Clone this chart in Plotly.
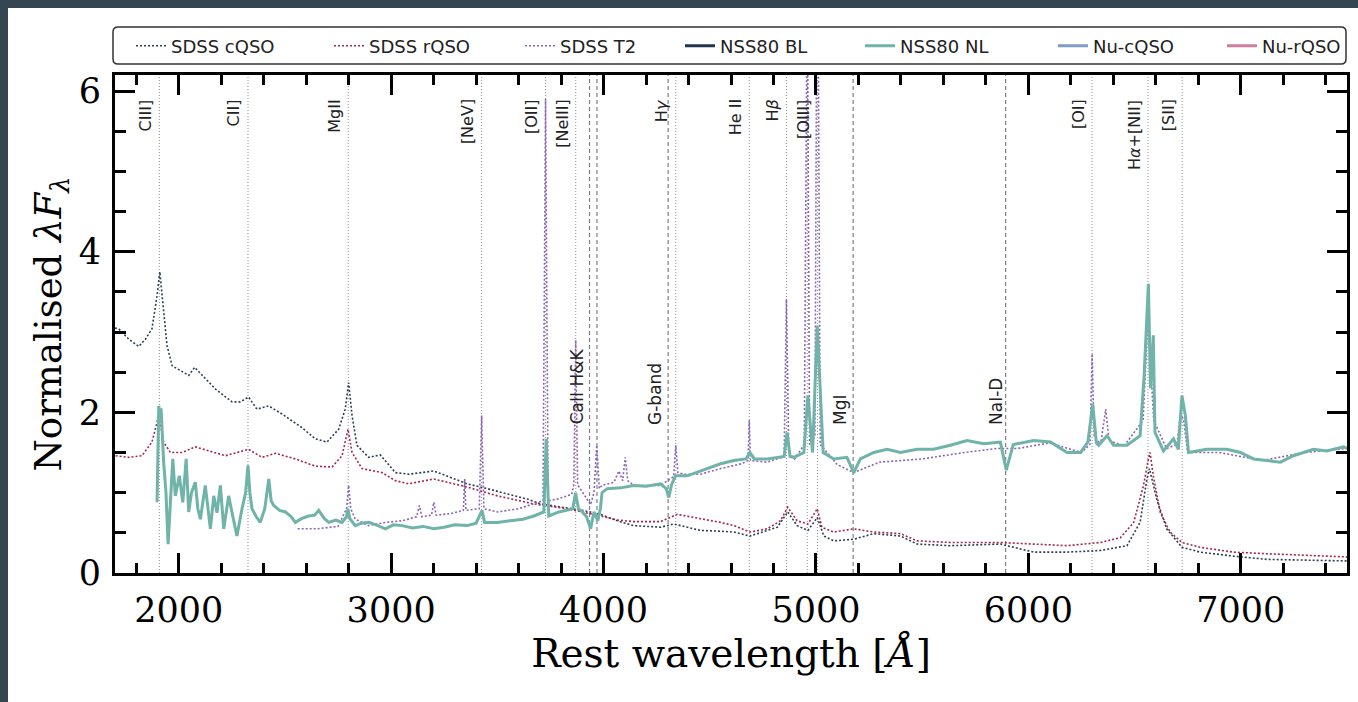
import plotly.graph_objects as go

# ---------------- data ----------------
cqso_wl = [1700, 1718, 1765, 1812, 1843, 1874, 1898, 1911, 1925, 1945, 1969, 2008, 2047, 2075, 2110,
           2173, 2251, 2290, 2329, 2368, 2424, 2486, 2580, 2643, 2698, 2753, 2784, 2800, 2816, 2839,
           2894, 2949, 3020, 3082, 3201, 3280, 3358, 3453, 3562, 3641, 3704, 3800, 3900, 3986, 4064,
           4141, 4268, 4331, 4456, 4551, 4613, 4689, 4818, 4867, 4911, 4962, 5006, 5037, 5084, 5178,
           5272, 5398, 5476, 5633, 5868, 6025, 6182, 6339, 6464, 6526, 6558, 6570, 6604, 6651, 6723,
           6808, 6965, 7122, 7300, 7500]
cqso_flux = [3.05, 3.04, 2.91, 2.82, 2.91, 3.04, 3.45, 3.75, 3.37, 2.83, 2.58, 2.52, 2.46, 2.56, 2.46,
             2.29, 2.13, 2.13, 2.19, 2.04, 2.08, 1.98, 1.81, 1.67, 1.63, 1.79, 2.04, 2.37, 1.96, 1.59,
             1.44, 1.47, 1.25, 1.23, 1.27, 1.19, 1.11, 1.05, 0.98, 0.92, 0.86, 0.82, 0.78, 0.73, 0.65,
             0.59, 0.57, 0.61, 0.53, 0.52, 0.51, 0.46, 0.57, 0.76, 0.59, 0.53, 0.69, 0.46, 0.40, 0.42,
             0.49, 0.46, 0.36, 0.34, 0.36, 0.26, 0.26, 0.28, 0.34, 0.63, 1.17, 1.30, 0.92, 0.55, 0.32,
             0.26, 0.21, 0.17, 0.16, 0.15]

rqso_wl = [1703, 1765, 1827, 1874, 1906, 1929, 1961, 2016, 2078, 2141, 2220, 2329, 2392, 2455, 2549,
           2643, 2722, 2769, 2797, 2816, 2863, 2957, 3020, 3082, 3201, 3358, 3500, 3672, 3829, 3986,
           4064, 4141, 4268, 4347, 4456, 4551, 4613, 4689, 4771, 4833, 4867, 4911, 4962, 5006, 5028,
           5084, 5178, 5272, 5398, 5476, 5633, 5868, 6025, 6182, 6339, 6433, 6496, 6542, 6565, 6573,
           6588, 6620, 6667, 6723, 6808, 6965, 7122, 7280, 7500]
rqso_flux = [1.46, 1.44, 1.46, 1.63, 1.96, 1.63, 1.50, 1.50, 1.57, 1.52, 1.46, 1.54, 1.44, 1.49, 1.42,
             1.33, 1.32, 1.46, 1.79, 1.50, 1.30, 1.25, 1.15, 1.11, 1.17, 1.07, 0.96, 0.86, 0.80, 0.71,
             0.66, 0.64, 0.64, 0.73, 0.68, 0.63, 0.59, 0.51, 0.55, 0.65, 0.82, 0.65, 0.61, 0.80, 0.57,
             0.51, 0.55, 0.51, 0.49, 0.40, 0.38, 0.38, 0.36, 0.34, 0.38, 0.44, 0.63, 1.09, 1.42, 1.50,
             1.21, 0.76, 0.51, 0.38, 0.32, 0.26, 0.24, 0.22, 0.20]

t2_wl = [2560, 2650, 2750, 2790, 2800, 2810, 2831, 2894, 2973, 3051, 3120, 3133, 3145, 3190, 3201,
         3212, 3280, 3340, 3346, 3352, 3415, 3426, 3437, 3500, 3600, 3672, 3715, 3727, 3739, 3782,
         3850, 3860, 3869, 3878, 3890, 3900, 3939, 3955, 3968, 3980, 3993, 4049, 4072, 4090, 4102,
         4114, 4142, 4268, 4330, 4340, 4350, 4378, 4456, 4551, 4650, 4680, 4686, 4692, 4771, 4850,
         4861, 4872, 4900, 4945, 4959, 4970, 4995, 5007, 5020, 5100, 5178, 5300, 5500, 5700, 5850,
         5950, 6100, 6250, 6290, 6300, 6310, 6340, 6364, 6380, 6450, 6540, 6563, 6590, 6650, 6700,
         6716, 6731, 6750, 6900, 7100, 7300, 7500]
t2_flux = [0.55, 0.55, 0.58, 0.80, 1.09, 0.80, 0.67, 0.59, 0.63, 0.65, 0.70, 0.84, 0.70, 0.72, 0.88,
           0.72, 0.74, 0.78, 1.17, 0.78, 0.80, 1.96, 0.80, 0.76, 0.80, 0.86, 0.90, 5.90, 0.90, 0.92,
           0.98, 1.10, 2.90, 1.10, 1.05, 1.00, 0.85, 1.00, 1.59, 1.05, 1.09, 1.13, 1.27, 1.15, 1.44,
           1.15, 1.09, 1.09, 1.20, 1.59, 1.25, 1.23, 1.23, 1.30, 1.36, 1.40, 1.90, 1.40, 1.38, 1.45,
           3.41, 1.50, 1.42, 1.60, 7.50, 1.60, 1.70, 9.00, 1.60, 1.35, 1.25, 1.38, 1.42, 1.50, 1.55,
           1.55, 1.62, 1.50, 1.60, 2.73, 1.70, 1.60, 2.04, 1.65, 1.58, 1.90, 3.20, 1.90, 1.55, 1.60,
           2.00, 1.90, 1.50, 1.50, 1.40, 1.50, 1.55]

nl_wl = [1898, 1906, 1912, 1917, 1929, 1940, 1950, 1961, 1972, 1984, 2003, 2019, 2035, 2047, 2060,
         2078, 2090, 2102, 2125, 2149, 2165, 2180, 2196, 2212, 2235, 2255, 2274, 2298, 2315, 2326,
         2335, 2345, 2365, 2384, 2405, 2424, 2435, 2447, 2475, 2502, 2530, 2549, 2580, 2612, 2640,
         2659, 2685, 2706, 2740, 2769, 2790, 2797, 2805, 2831, 2860, 2894, 2930, 2973, 3010, 3051,
         3100, 3150, 3201, 3250, 3300, 3358, 3400, 3428, 3440, 3500, 3562, 3620, 3672, 3719, 3730,
         3742, 3790, 3829, 3855, 3868, 3882, 3900, 3920, 3939, 3955, 3973, 3985, 3993, 4017, 4080,
         4142, 4200, 4268, 4295, 4307, 4320, 4339, 4394, 4456, 4551, 4613, 4670, 4689, 4710, 4771,
         4833, 4850, 4864, 4878, 4896, 4943, 4962, 4984, 5006, 5034, 5084, 5146, 5178, 5209, 5272,
         5335, 5398, 5476, 5554, 5633, 5711, 5790, 5868, 5896, 5929, 6025, 6104, 6182, 6245, 6280,
         6303, 6320, 6331, 6370, 6401, 6464, 6526, 6545, 6565, 6575, 6588, 6596, 6636, 6683, 6706,
         6723, 6739, 6754, 6840, 6934, 6998, 7060, 7122, 7186, 7248, 7342, 7405, 7484, 7500]
nl_flux = [0.88, 2.08, 1.95, 2.05, 1.38, 1.00, 0.36, 0.96, 1.42, 0.96, 1.21, 0.88, 1.42, 0.76, 1.00,
           1.13, 0.80, 0.67, 1.09, 0.55, 0.96, 0.75, 1.09, 0.55, 0.96, 0.70, 0.46, 0.80, 1.00, 1.34,
           1.00, 0.80, 0.70, 0.63, 0.80, 1.17, 0.90, 0.84, 0.78, 0.76, 0.70, 0.63, 0.68, 0.71, 0.72,
           0.78, 0.68, 0.63, 0.66, 0.63, 0.70, 0.80, 0.68, 0.59, 0.62, 0.63, 0.60, 0.55, 0.60, 0.59,
           0.56, 0.58, 0.55, 0.57, 0.60, 0.59, 0.62, 0.78, 0.63, 0.63, 0.65, 0.67, 0.71, 0.76, 1.67,
           0.71, 0.76, 0.78, 0.80, 1.00, 0.80, 0.76, 0.70, 0.55, 0.76, 0.65, 0.80, 1.00, 1.05, 1.06,
           1.09, 1.08, 1.11, 1.05, 0.94, 1.10, 1.21, 1.21, 1.27, 1.36, 1.40, 1.42, 1.50, 1.42, 1.42,
           1.44, 1.45, 1.75, 1.45, 1.44, 1.50, 2.21, 1.50, 3.08, 1.50, 1.42, 1.44, 1.25, 1.42, 1.50,
           1.54, 1.50, 1.54, 1.54, 1.59, 1.65, 1.61, 1.63, 1.28, 1.60, 1.65, 1.63, 1.50, 1.50, 1.63,
           2.10, 1.62, 1.59, 1.71, 1.59, 1.59, 1.71, 2.46, 3.60, 2.30, 2.96, 1.75, 1.52, 1.67, 1.54,
           2.21, 1.96, 1.50, 1.54, 1.54, 1.50, 1.42, 1.40, 1.38, 1.46, 1.54, 1.52, 1.57, 1.55]

emission_line_wl = [1909, 2326, 2798, 3426, 3727, 3869, 4340, 4686, 4861, 4959, 5007, 6300, 6563, 6724]
emission_label_wl = [1909, 2326, 2798, 3426, 3727, 3869, 4340, 4686, 4861, 5007, 6300, 6563, 6724]
emission_labels = ["CIII]", "CII]", "MgII", "[NeV]", "[OII]", "[NeIII]", "H<i>γ</i>", "He II",
                   "H<i>β</i>", "[OIII]", "[OI]", "H<i>α</i>+[NII]", "[SII]"]
absorption_line_wl = [3934, 3969, 4304, 5175, 5893]
absorption_label_wl = [3934, 4304, 5175, 5893]
absorption_labels = ["CaII H&K", "G-band", "MgI", "NaI-D"]

series_names = ["SDSS cQSO", "SDSS rQSO", "SDSS T2", "NSS80 BL", "NSS80 NL", "Nu-cQSO", "Nu-rQSO"]
series_colors = ["#2e3f52", "#a3264b", "#8a63b8", "#1f364c", "#6fb3a9", "#7f9cc4", "#d27ca0"]

# ---------------- figure ----------------
W, H = 1358, 702
L, R, T, B = 115, 1347, 75, 573
pw, ph = R - L, B - T


def px(x):
    return (x - L) / pw


def py(y):
    return (B - y) / ph


fig = go.Figure()

data = {
    "SDSS cQSO": (cqso_wl, cqso_flux),
    "SDSS rQSO": (rqso_wl, rqso_flux),
    "SDSS T2": (t2_wl, t2_flux),
    "NSS80 BL": ([None], [None]),
    "NSS80 NL": (nl_wl, nl_flux),
    "Nu-cQSO": ([None], [None]),
    "Nu-rQSO": ([None], [None]),
}

# legend text start positions (px)
legend_text_x = [171, 369, 560, 720, 900, 1093, 1262]

layout_legends = {}
for i, (name, col) in enumerate(zip(series_names, series_colors)):
    xs, ys = data[name]
    dotted = name.startswith("SDSS")
    lk = "legend" if i == 0 else f"legend{i + 1}"
    fig.add_trace(go.Scatter(
        x=xs, y=ys, mode="lines", name=name, legend=lk,
        line=dict(color=col, width=1.6 if dotted else 3, dash="2px,2px" if dotted else "solid"),
        showlegend=True,
    ))
    layout_legends[lk] = dict(
        x=px(legend_text_x[i] - 40), xanchor="left", y=py(46), yanchor="middle",
        bgcolor="rgba(0,0,0,0)", borderwidth=0,
        font=dict(family="DejaVu Sans", size=18, color="#222222"),
        itemwidth=30,
    )

shapes = []
# white figure area over the dark frame
shapes.append(dict(type="rect", xref="paper", yref="paper", layer="below",
                   x0=px(8), x1=px(W + 10), y0=py(H + 10), y1=py(8),
                   fillcolor="white", line=dict(width=0)))
# rounded legend box
bx0, bx1, by0, by1 = px(113), px(1346), py(64), py(27)
rx, ry = 5 / pw, 5 / ph
path = (f"M {bx0 + rx},{by0} L {bx1 - rx},{by0} Q {bx1},{by0} {bx1},{by0 + ry} "
        f"L {bx1},{by1 - ry} Q {bx1},{by1} {bx1 - rx},{by1} L {bx0 + rx},{by1} "
        f"Q {bx0},{by1} {bx0},{by1 - ry} L {bx0},{by0 + ry} Q {bx0},{by0} {bx0 + rx},{by0} Z")
shapes.append(dict(type="path", xref="paper", yref="paper", path=path,
                   line=dict(color="#333333", width=1.5), fillcolor="white", layer="above"))

for wl in emission_line_wl:
    shapes.append(dict(type="line", xref="x", yref="paper", x0=wl, x1=wl, y0=0, y1=1,
                       line=dict(color="#909090", width=1, dash="1px,2px"), layer="below"))
for wl in absorption_line_wl:
    shapes.append(dict(type="line", xref="x", yref="paper", x0=wl, x1=wl, y0=0, y1=1,
                       line=dict(color="#808080", width=1.2, dash="4px,3px"), layer="below"))

annotations = []
for wl, lab in zip(emission_label_wl, emission_labels):
    annotations.append(dict(x=wl, y=5.92, xref="x", yref="y", text=lab, showarrow=False,
                            textangle=-90, xanchor="right", yanchor="top", xshift=-2,
                            font=dict(family="DejaVu Sans", size=16, color="#222222")))
for wl, lab in zip(absorption_label_wl, absorption_labels):
    annotations.append(dict(x=wl, y=1.82, xref="x", yref="y", text=lab, showarrow=False,
                            textangle=-90, xanchor="right", yanchor="bottom",
                            xshift=3 if lab == "NaI-D" else -1,
                            font=dict(family="DejaVu Sans", size=17, color="#222222")))

tick_font = dict(family="DejaVu Serif", size=35, color="black")
fig.update_layout(
    width=W, height=H,
    margin=dict(l=L, r=W - R, t=T, b=H - B, autoexpand=False),
    paper_bgcolor="#344651", plot_bgcolor="white",
    shapes=shapes, annotations=annotations,
    xaxis=dict(range=[1700, 7500], dtick=1000, tick0=0, ticks="inside", ticklen=20, tickwidth=3,
               tickcolor="black", showline=True, linewidth=3, linecolor="black", mirror="ticks",
               showgrid=False, zeroline=False, tickfont=tick_font, ticklabelstandoff=4,
               minor=dict(dtick=200, tick0=0, ticks="inside", ticklen=10, tickwidth=2.5,
                          tickcolor="black", showgrid=False),
               title=dict(text="Rest wavelength [<i>Å</i>]",
                          font=dict(family="DejaVu Serif", size=39, color="black"), standoff=10)),
    yaxis=dict(range=[0, 6.2], dtick=2, tick0=0, ticks="inside", ticklen=20, tickwidth=3,
               tickcolor="black", showline=True, linewidth=3, linecolor="black", mirror="ticks",
               showgrid=False, zeroline=False, tickfont=tick_font, ticklabelstandoff=4,
               minor=dict(dtick=0.5, tick0=0, ticks="inside", ticklen=11, tickwidth=2.5,
                          tickcolor="black", showgrid=False),
               title=dict(text="Normalised <i>λF</i><sub><i>λ</i></sub>",
                          font=dict(family="DejaVu Serif", size=37, color="black"), standoff=6)),
    **layout_legends,
)

fig.write_html("out.html")
